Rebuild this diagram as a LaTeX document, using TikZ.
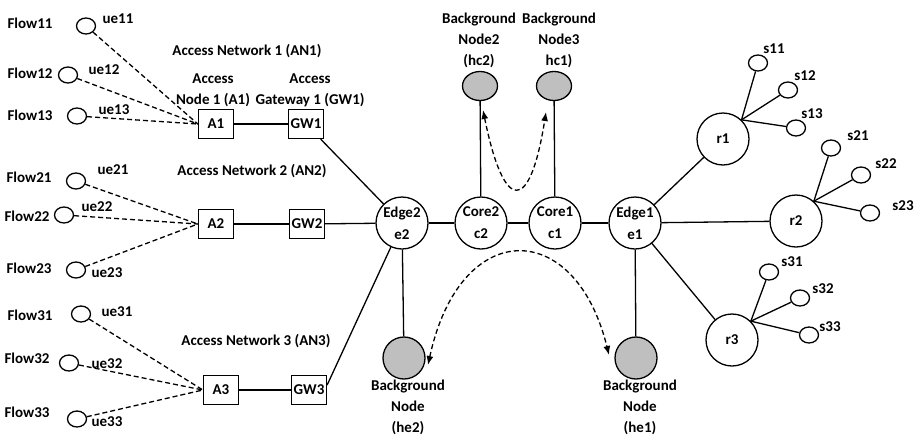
\documentclass[tikz,border=0pt]{standalone}
\usepackage{fontspec}
\setmainfont{Carlito}
\usetikzlibrary{shapes.geometric,arrows.meta}

\begin{document}
\begin{tikzpicture}[x=1pt, y=-1pt,
	font=\fontsize{15}{21}\selectfont\bfseries,
	line width=1.3pt,
	box/.style={draw, minimum width=35pt, minimum height=29pt, inner sep=0pt},
	uenode/.style={draw, ellipse, minimum width=19pt, minimum height=16pt, inner sep=0pt},
	bignode/.style={draw, circle, minimum size=52pt, inner sep=0pt},
	bgtop/.style={draw, ellipse, fill=black!25, minimum width=35pt, minimum height=29pt, inner sep=0pt},
	bgbottom/.style={draw, circle, fill=black!25, minimum size=42pt, inner sep=0pt},
	radio/.style={draw, circle, minimum size=52pt, inner sep=0pt},
	link/.style={dash pattern=on 5pt off 3pt},
	migrate/.style={link, {Latex[length=9pt,width=7pt]}-{Latex[length=9pt,width=7pt]}},
	]
	\useasboundingbox (0,0) rectangle (916,437);
	
	% Access network 1
	\node (fl11) at (30,23) {Flow11};
	\node (fl12) at (30,73) {Flow12};
	\node (fl13) at (30,115) {Flow13};
	\node[uenode] (ue11) at (86,26) {};
	\node[uenode] (ue12) at (68,75) {};
	\node[uenode] (ue13) at (77,116) {};
	\node (lue11) at (118,19) {ue11};
	\node (lue12) at (104,70) {ue12};
	\node (lue13) at (114,110) {ue13};
	\node (an1) at (247,51) {Access Network 1 (AN1)};
	\node[box] (A1) at (216,124) {A1};
	\node[box] (GW1) at (306,124) {GW1};
	\node[align=center] (lA1) at (213,90) {Access\\Node 1 (A1)};
	\node[align=center] (lGW1) at (310,90) {Access\\Gateway 1 (GW1)};
	
	% Access network 2
	\node (fl21) at (29,177) {Flow21};
	\node (fl22) at (27,216) {Flow22};
	\node (fl23) at (29,268) {Flow23};
	\node[uenode] (ue21) at (76,181) {};
	\node[uenode] (ue22) at (64,215) {};
	\node[uenode] (ue23) at (76,270) {};
	\node (lue21) at (113,170) {ue21};
	\node (lue22) at (97,207) {ue22};
	\node (lue23) at (107,273) {ue23};
	\node (an2) at (252,171) {Access Network 2 (AN2)};
	\node[box] (A2) at (216,224) {A2};
	\node[box] (GW2) at (307,224) {GW2};
	
	% Access network 3
	\node (fl31) at (30,315) {Flow31};
	\node (fl32) at (27,358) {Flow32};
	\node (fl33) at (27,412) {Flow33};
	\node[uenode] (ue31) at (81,314) {};
	\node[uenode] (ue32) at (69,363) {};
	\node[uenode] (ue33) at (77,419) {};
	\node (lue31) at (117,312) {ue31};
	\node (lue32) at (107,364) {ue32};
	\node (lue33) at (107,422) {ue33};
	\node (an3) at (256,341) {Access Network 3 (AN3)};
	\node[box] (A3) at (221,390) {A3};
	\node[box] (GW3) at (309,390) {GW3};
	
	% Users to access nodes
	\foreach \u in {ue11,ue12,ue13} \draw[link] (\u) -- (A1.west);
	\foreach \u in {ue21,ue22,ue23} \draw[link] (\u) -- (A2.west);
	\foreach \u in {ue31,ue32,ue33} \draw[link] (\u) -- (A3.west);
	\draw (A1) -- (GW1);
	\draw (A2) -- (GW2);
	\draw (A3) -- (GW3);
	
	% Edge and core
	\node[bignode, label={[align=center]center:Edge2\\[1pt]e2}] (e2) at (402,223) {};
	\node[bignode, label={[align=center]center:Core2\\[1pt]c2}] (c2) at (481,223) {};
	\node[bignode, label={[align=center]center:Core1\\[1pt]c1}] (c1) at (555,223) {};
	\node[bignode, label={[align=center]center:Edge1\\[1pt]e1}] (e1) at (635,223) {};
	\draw (GW1) -- (e2);
	\draw (GW2) -- (e2);
	\draw ([yshift=5pt]GW3.east) -- (e2);
	\draw (e2) -- (c2);
	\draw (c2) -- (c1);
	\draw (c1) -- (e1);
	
	% Background nodes
	\node[bgtop] (hc2) at (480,86) {};
	\node[bgtop] (hc1) at (554,86) {};
	\node[align=center] (lhc2) at (479,40) {Background\\Node2\\(hc2)};
	\node[align=center] (lhc1) at (559,40) {Background\\Node3\\hc1)};
	\node[bgbottom] (he2) at (404,358) {};
	\node[bgbottom] (he1) at (636,358) {};
	\node[align=center] (lhe2) at (408,407) {Background\\Node\\(he2)};
	\node[align=center] (lhe1) at (640,407) {Background\\Node\\(he1)};
	\draw (hc2) -- (c2);
	\draw (hc1) -- (c1);
	\draw (e2) -- (he2);
	\draw (e1) -- (he1);
	
	% Migration
	\coordinate (mc2) at (483,110);
	\coordinate (mc1) at (546,112);
	\coordinate (me2) at (428,365);
	\coordinate (me1) at (609,355);
	\draw[migrate] (mc2) .. controls (504,214) and (530,214) .. (mc1);
	\draw[migrate] (me2) .. controls (460,217) and (575,217) .. (me1);
	
	% Radio side
	\node[radio] (r1) at (723,139) {r1};
	\node[radio] (r2) at (796,221) {r2};
	\node[radio] (r3) at (732,340) {r3};
	\draw (e1) -- (r1);
	\draw (e1) -- (r2);
	\draw (e1) -- (r3);
	
	\node[uenode] (s11) at (758,63) {};
	\node[uenode] (s12) at (788,90) {};
	\node[uenode] (s13) at (796,128) {};
	\node[uenode] (s21) at (831,148) {};
	\node[uenode] (s22) at (861,175) {};
	\node[uenode] (s23) at (870,213) {};
	\node[uenode] (s31) at (769,272) {};
	\node[uenode] (s32) at (800,298) {};
	\node[uenode] (s33) at (809,335) {};
	\node (ls11) at (774,49) {s11};
	\node (ls12) at (805,76) {s12};
	\node (ls13) at (812,114) {s13};
	\node (ls21) at (858,136) {s21};
	\node (ls22) at (886,164) {s22};
	\node (ls23) at (903,206) {s23};
	\node (ls31) at (792,262) {s31};
	\node (ls32) at (823,289) {s32};
	\node (ls33) at (830,327) {s33};
	\foreach \s in {s11,s12,s13} \draw (\s) -- (r1.46);
	\foreach \s in {s21,s22,s23} \draw (\s) -- (r2.48);
	\foreach \s in {s31,s32,s33} \draw (\s) -- (r3.45);
\end{tikzpicture}
\end{document}
